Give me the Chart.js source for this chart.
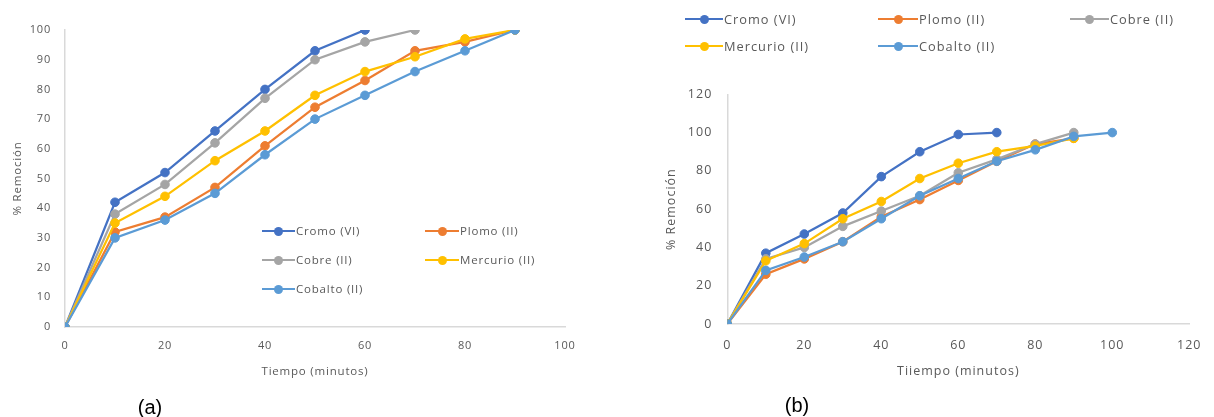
<!DOCTYPE html>
<html>
<head>
<meta charset="utf-8">
<script src="https://cdn.jsdelivr.net/npm/chart.js@4.4.1/dist/chart.umd.min.js"></script>
<style>
  html, body { margin: 0; padding: 0; background: #fff; }
  #wrap { position: relative; width: 1214px; height: 417px; overflow: hidden; font-family: "Open Sans", sans-serif; }
  canvas { position: absolute; top: 0; }
  .lg { position: absolute; height: 16px; color: #595959; white-space: nowrap; }
  .lg .ln { position: absolute; top: 7px; height: 2px; }
  .lg .mk { position: absolute; top: 3.5px; width: 9px; height: 9px; border-radius: 50%; }
  .lg .tx { position: absolute; top: 0; line-height: 16px; }
  .cap { position: absolute; font-family: "Liberation Sans", sans-serif; font-size: 20px; color: #000; line-height: 24px; transform: translate(-50%, -50%); }
</style>
</head>
<body>
<div id="wrap">
  <canvas id="ca" width="610" height="417" style="left:0;width:610px;height:417px"></canvas>
  <canvas id="cb" width="604" height="417" style="left:610px;width:604px;height:417px"></canvas>
  <div class="cap" style="left:150px;top:407px">(a)</div>
  <div class="cap" style="left:797px;top:405px">(b)</div>
</div>
<script>
// ---------- Data ----------
const seriesNames = ["Cromo (VI)", "Plomo (II)", "Cobre (II)", "Mercurio (II)", "Cobalto (II)"];
const seriesColors = ["#4472C4", "#ED7D31", "#A5A5A5", "#FFC000", "#5B9BD5"];

// Chart (a)
const tiempoA = [0, 10, 20, 30, 40, 50, 60, 70, 80, 90];
const cromoA = [0, 42, 52, 66, 80, 93, 100];
const plomoA = [0, 32, 37, 47, 61, 74, 83, 93, 96, 100];
const cobreA = [0, 38, 48, 62, 77, 90, 96, 100];
const mercurioA = [0, 35, 44, 56, 66, 78, 86, 91, 97, 100];
const cobaltoA = [0, 30, 36, 45, 58, 70, 78, 86, 93, 100];

// Chart (b)
const tiempoB = [0, 10, 20, 30, 40, 50, 60, 70, 80, 90, 100];
const cromoB = [0, 37, 47, 58, 77, 90, 99, 100];
const plomoB = [0, 26, 34, 43, 56, 65, 75, 85, 94, 97];
const cobreB = [0, 34, 40, 51, 59, 67, 79, 86, 94, 100];
const mercurioB = [0, 33, 42, 55, 64, 76, 84, 90, 93, 97];
const cobaltoB = [0, 28, 35, 43, 55, 67, 76, 85, 91, 98, 100];

// Axis tick settings
const xTicksA = { min: 0, max: 100, step: 20 };
const yTicksA = { min: 0, max: 100, step: 10 };
const xTicksB = { min: 0, max: 120, step: 20 };
const yTicksB = { min: 0, max: 120, step: 20 };

const axisTitleY = "% Remoción";
const axisTitleXA = "Tiempo (minutos)";
const axisTitleXB = "Tiiempo (minutos)";

// ---------- Helpers ----------
function toPoints(xs, ys) { return ys.map((v, i) => ({ x: xs[i], y: v })); }

function makeDatasets(xs, arrays) {
  return arrays.map((arr, i) => ({
    label: seriesNames[i],
    data: toPoints(xs, arr),
    borderColor: seriesColors[i],
    backgroundColor: seriesColors[i],
    borderWidth: 2.25,
    pointRadius: 4.3,
    pointHoverRadius: 4.3,
    pointBorderWidth: 1,
    showLine: true,
    tension: 0,
    order: arrays.length - i
  }));
}

function makeChart(canvas, datasets, cfg) {
  const tickColor = "#595959";
  const spacingPlugin = {
    id: 'spacing',
    beforeDraw(chart) { chart.ctx.letterSpacing = cfg.letterSpacing || '0px'; }
  };
  return new Chart(canvas, {
    type: 'scatter',
    data: { datasets },
    plugins: [spacingPlugin],
    options: {
      responsive: false,
      animation: false,
      events: [],
      layout: { padding: { left: 0, right: cfg.padRight, top: cfg.padTop, bottom: 0 } },
      plugins: { legend: { display: false }, tooltip: { enabled: false } },
      scales: {
        x: {
          type: 'linear',
          min: cfg.xt.min, max: cfg.xt.max,
          ticks: { stepSize: cfg.xt.step, color: tickColor, font: { family: cfg.font, size: cfg.tickSize }, padding: cfg.xTickPad, maxRotation: 0 },
          grid: { display: false, drawTicks: false },
          border: { display: true, color: "#D9D9D9", width: 1.5 },
          title: { display: true, text: cfg.xTitle, color: tickColor, font: { family: cfg.font, size: cfg.titleSize }, padding: { top: 0, bottom: cfg.xTitlePad } },
          afterFit(s) { s.height = cfg.xHeight; }
        },
        y: {
          type: 'linear',
          min: cfg.yt.min, max: cfg.yt.max,
          ticks: { stepSize: cfg.yt.step, color: tickColor, font: { family: cfg.font, size: cfg.tickSize }, padding: cfg.yTickPad },
          grid: { display: false, drawTicks: false },
          border: { display: true, color: "#D9D9D9", width: 1.5 },
          title: { display: true, text: axisTitleY, color: tickColor, font: { family: cfg.font, size: cfg.titleSize }, padding: { top: cfg.yTitlePad, bottom: 0 } },
          afterFit(s) { s.width = cfg.yWidth; }
        }
      }
    }
  });
}

// ---------- Charts ----------
makeChart(document.getElementById('ca'),
  makeDatasets(tiempoA, [cromoA, plomoA, cobreA, mercurioA, cobaltoA]),
  { xt: xTicksA, yt: yTicksA, padRight: 45, padTop: 30, xHeight: 90, yWidth: 65,
    font: "Open Sans", tickSize: 11, titleSize: 11.5, xTickPad: 12, yTickPad: 14,
    xTitle: axisTitleXA, xTitlePad: 38.7, yTitlePad: 10.5, letterSpacing: '0.8px' });

makeChart(document.getElementById('cb'),
  makeDatasets(tiempoB, [cromoB, plomoB, cobreB, mercurioB, cobaltoB]),
  { xt: xTicksB, yt: yTicksB, padRight: 15.7, padTop: 94.3, xHeight: 93, yWidth: 117.3,
    font: "Open Sans", tickSize: 12.5, titleSize: 12.5, xTickPad: 14, yTickPad: 15,
    xTitle: axisTitleXB, xTitlePad: 38, yTitlePad: 54, letterSpacing: '1px' });

// ---------- Legends (HTML text) ----------
const wrap = document.getElementById('wrap');
function addLegend(items, fontSize, spacing) {
  items.forEach(it => {
    const d = document.createElement('div');
    d.className = 'lg';
    d.style.left = it.x + 'px';
    d.style.top = (it.y - 8) + 'px';
    d.style.fontSize = fontSize + 'px';
    d.style.letterSpacing = spacing;
    const c = seriesColors[it.i];
    const lw = it.lw;
    d.innerHTML = `<span class="ln" style="left:0;width:${lw}px;background:${c}"></span>` +
      `<span class="mk" style="left:${lw / 2 - 4.5}px;background:${c}"></span>` +
      `<span class="tx" style="left:${lw + 1}px">${seriesNames[it.i]}</span>`;
    wrap.appendChild(d);
  });
}
addLegend([
  { i: 0, x: 262, y: 231, lw: 33 }, { i: 1, x: 425, y: 231, lw: 34 },
  { i: 2, x: 262, y: 260, lw: 33 }, { i: 3, x: 425, y: 260, lw: 34 },
  { i: 4, x: 262, y: 289, lw: 33 }
], 11.5, '0.8px');
addLegend([
  { i: 0, x: 685, y: 19, lw: 38 }, { i: 1, x: 878, y: 19, lw: 40 }, { i: 2, x: 1070, y: 19, lw: 39 },
  { i: 3, x: 685, y: 46, lw: 38 }, { i: 4, x: 878, y: 46, lw: 40 }
], 12.8, '1px');
</script>
</body>
</html>
